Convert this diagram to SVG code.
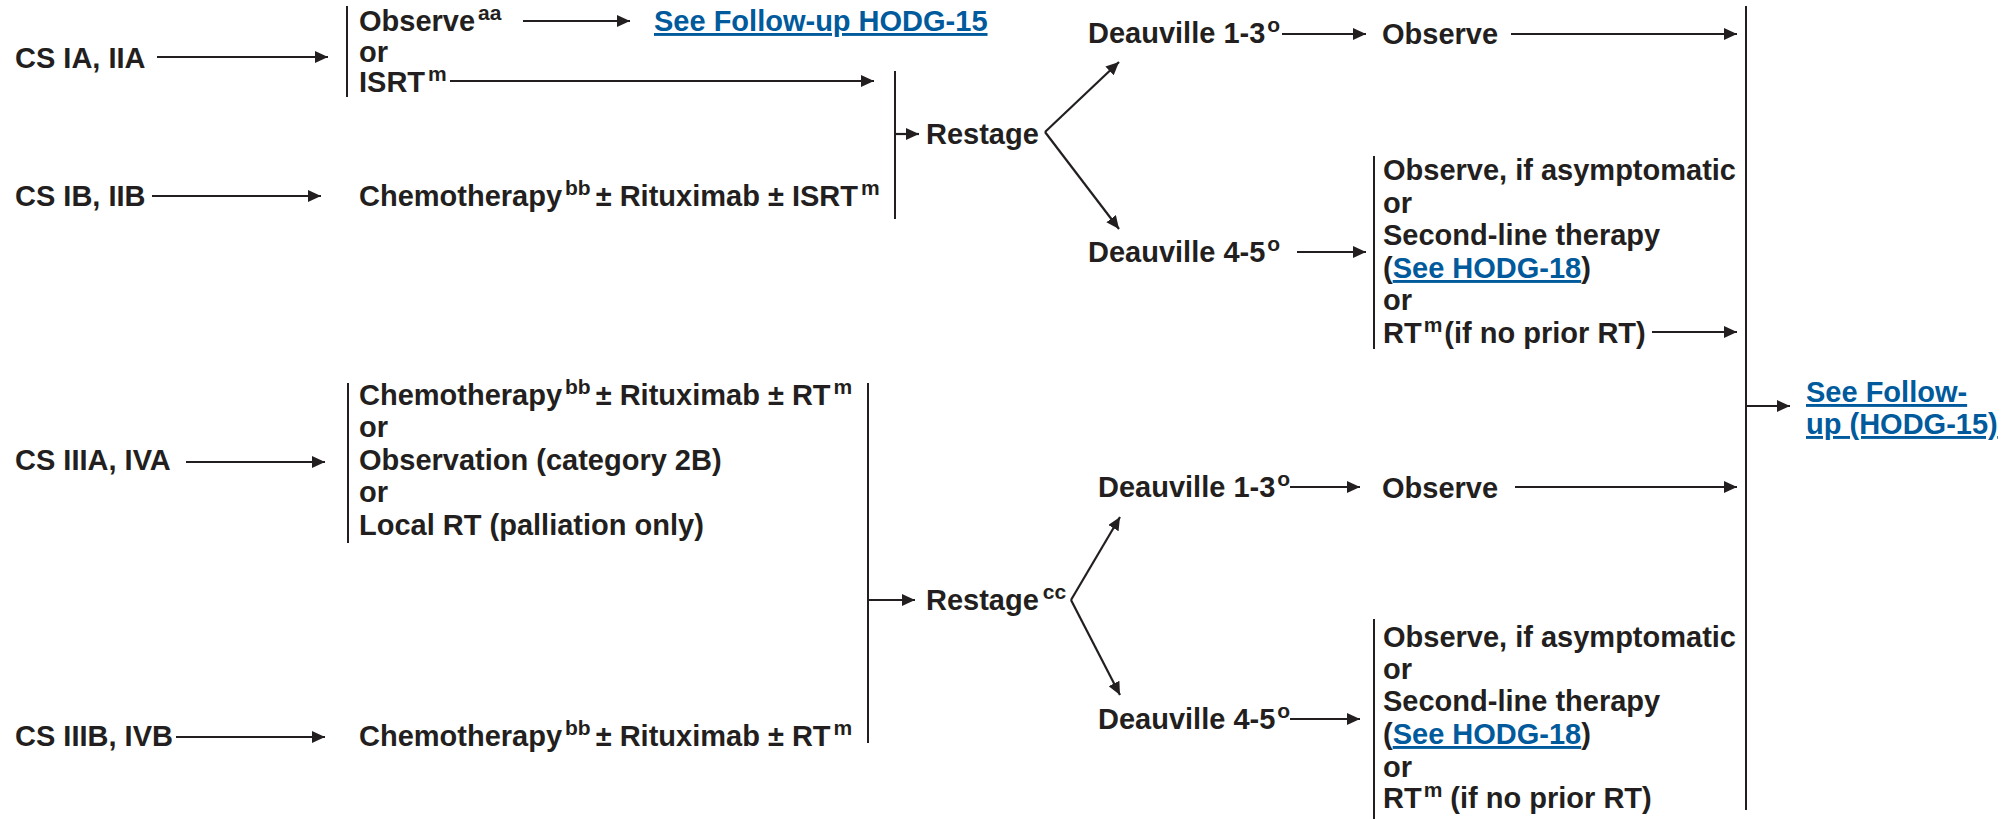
<svg xmlns="http://www.w3.org/2000/svg" width="2016" height="819" viewBox="0 0 2016 819">
<defs>
<style>
text{font-family:"Liberation Sans",Arial,sans-serif;font-weight:bold;font-size:29px;fill:#231f20}
.sup{font-size:21px}
.link{fill:#005a9c;text-decoration:underline}
.bar{stroke:#231f20;stroke-width:2;fill:none}
.arr{stroke:#231f20;stroke-width:2.2;fill:none;marker-end:url(#ah)}
</style>
<marker id="ah" markerUnits="userSpaceOnUse" markerWidth="14" markerHeight="12" refX="13" refY="6" orient="auto">
<path d="M0,0 L13,6 L0,12 z" fill="#231f20"/>
</marker>
</defs>
<rect width="2016" height="819" fill="#ffffff"/>

<g id="cs-ia-iia"><text x="15" y="68">CS IA, IIA</text></g>
<g id="cs-ib-iib"><text x="15" y="206">CS IB, IIB</text></g>
<g id="cs-iiia-iva"><text x="15" y="470">CS IIIA, IVA</text></g>
<g id="cs-iiib-ivb"><text x="15" y="746">CS IIIB, IVB</text></g>

<g id="opt-top">
<text x="359" y="31">Observe<tspan class="sup" dx="3" dy="-11">aa</tspan></text>
<text x="359" y="62">or</text>
<text x="359" y="92">ISRT<tspan class="sup" dx="3" dy="-11">m</tspan></text>
</g>
<g id="link-followup-top"><text x="654" y="31" class="link">See Follow-up HODG-15</text></g>
<g id="chemo-top"><text x="359" y="206">Chemotherapy<tspan class="sup" dx="3" dy="-11">bb</tspan><tspan dx="5" dy="11">± Rituximab ± ISRT</tspan><tspan class="sup" dx="3" dy="-11">m</tspan></text></g>
<g id="restage-top"><text x="926" y="144">Restage</text></g>
<g id="deauville13-top"><text x="1088" y="43">Deauville 1-3<tspan class="sup" dx="2" dy="-11">o</tspan></text></g>
<g id="observe-top"><text x="1382" y="44">Observe</text></g>
<g id="deauville45-top"><text x="1088" y="262">Deauville 4-5<tspan class="sup" dx="2" dy="-11">o</tspan></text></g>
<g id="opt-d45-top">
<text x="1383" y="180">Observe, if asymptomatic</text>
<text x="1383" y="213">or</text>
<text x="1383" y="245">Second-line therapy</text>
<text x="1383" y="278">(<tspan class="link">See HODG-18</tspan>)</text>
<text x="1383" y="310">or</text>
<text x="1383" y="343">RT<tspan class="sup" dx="2" dy="-11">m</tspan><tspan dx="2" dy="11">(if no prior RT)</tspan></text>
</g>

<g id="followup-right">
<text x="1806" y="402" class="link">See Follow-</text>
<text x="1806" y="434" class="link">up (HODG-15)</text>
</g>

<g id="opt-bottom">
<text x="359" y="405">Chemotherapy<tspan class="sup" dx="3" dy="-11">bb</tspan><tspan dx="5" dy="11">± Rituximab ± RT</tspan><tspan class="sup" dx="3" dy="-11">m</tspan></text>
<text x="359" y="437">or</text>
<text x="359" y="470">Observation (category 2B)</text>
<text x="359" y="502">or</text>
<text x="359" y="535">Local RT (palliation only)</text>
</g>
<g id="chemo-bottom"><text x="359" y="746">Chemotherapy<tspan class="sup" dx="3" dy="-11">bb</tspan><tspan dx="5" dy="11">± Rituximab ± RT</tspan><tspan class="sup" dx="3" dy="-11">m</tspan></text></g>
<g id="restage-bottom"><text x="926" y="610">Restage<tspan class="sup" dx="4" dy="-11">cc</tspan></text></g>
<g id="deauville13-bottom"><text x="1098" y="497">Deauville 1-3<tspan class="sup" dx="2" dy="-11">o</tspan></text></g>
<g id="observe-bottom"><text x="1382" y="498">Observe</text></g>
<g id="deauville45-bottom"><text x="1098" y="729">Deauville 4-5<tspan class="sup" dx="2" dy="-11">o</tspan></text></g>
<g id="opt-d45-bottom">
<text x="1383" y="647">Observe, if asymptomatic</text>
<text x="1383" y="679">or</text>
<text x="1383" y="711">Second-line therapy</text>
<text x="1383" y="744">(<tspan class="link">See HODG-18</tspan>)</text>
<text x="1383" y="777">or</text>
<text x="1383" y="808">RT<tspan class="sup" dx="2" dy="-11">m</tspan><tspan dx="8" dy="11">(if no prior RT)</tspan></text>
</g>

<g id="connectors">
<line class="bar" x1="347" y1="6" x2="347" y2="97"/>
<line class="bar" x1="895" y1="71" x2="895" y2="219"/>
<line class="bar" x1="1374" y1="156" x2="1374" y2="349"/>
<line class="bar" x1="1746" y1="6" x2="1746" y2="810"/>
<line class="bar" x1="348" y1="383" x2="348" y2="543"/>
<line class="bar" x1="868" y1="383" x2="868" y2="743"/>
<line class="bar" x1="1374" y1="619" x2="1374" y2="819"/>
<line class="arr" x1="157" y1="57" x2="328" y2="57"/>
<line class="arr" x1="523" y1="21" x2="630" y2="21"/>
<line class="arr" x1="450" y1="81" x2="874" y2="81"/>
<line class="arr" x1="152" y1="196" x2="321" y2="196"/>
<line class="arr" x1="896" y1="134" x2="919" y2="134"/>
<line class="arr" x1="1045" y1="132" x2="1119" y2="62"/>
<line class="arr" x1="1045" y1="132" x2="1119" y2="229"/>
<line class="arr" x1="1282" y1="34" x2="1366" y2="34"/>
<line class="arr" x1="1511" y1="34" x2="1737" y2="34"/>
<line class="arr" x1="1297" y1="252" x2="1366" y2="252"/>
<line class="arr" x1="1652" y1="332" x2="1737" y2="332"/>
<line class="arr" x1="1746" y1="406" x2="1790" y2="406"/>
<line class="arr" x1="186" y1="462" x2="325" y2="462"/>
<line class="arr" x1="176" y1="737" x2="325" y2="737"/>
<line class="arr" x1="869" y1="600" x2="915" y2="600"/>
<line class="arr" x1="1071" y1="600" x2="1120" y2="517"/>
<line class="arr" x1="1071" y1="600" x2="1120" y2="695"/>
<line class="arr" x1="1290" y1="487" x2="1360" y2="487"/>
<line class="arr" x1="1515" y1="487" x2="1737" y2="487"/>
<line class="arr" x1="1290" y1="719" x2="1360" y2="719"/>
</g>
</svg>
